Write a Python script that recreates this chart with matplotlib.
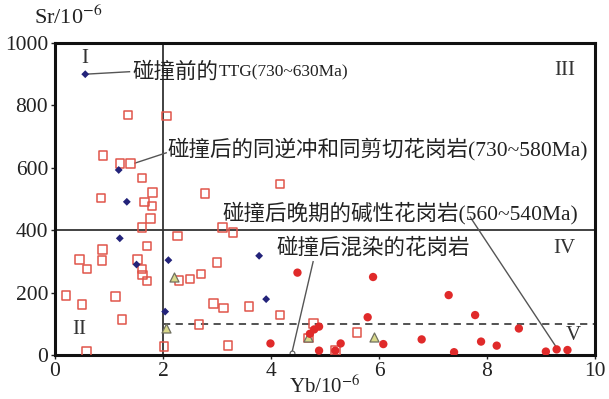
import matplotlib
matplotlib.use("Agg")
import matplotlib.pyplot as plt

plt.rcParams['font.family'] = ['Liberation Serif', 'Noto Sans CJK SC']
plt.rcParams['mathtext.fontset'] = 'stix'

# Pre-collision TTG (blue diamonds)
ttg_yb = [0.56, 1.18, 1.33, 1.20, 1.51, 2.10, 3.78, 3.91, 2.04]
ttg_sr = [900, 593, 491, 374, 290, 304, 318, 179, 139]

# Post-collision syn-thrust / syn-shear granites (open red squares)
syn_yb = [1.35, 2.07, 0.89, 1.20, 1.40, 1.61, 1.81, 0.85, 1.66, 1.80, 1.77, 1.61, 2.27,
          4.17, 2.78, 3.10, 3.30, 1.70, 0.88, 0.45, 0.87, 0.59, 1.53, 1.61, 1.62, 1.70,
          0.20, 1.12, 0.50, 1.24, 0.58, 2.02, 2.30, 2.50, 2.70, 3.00, 2.93, 3.12, 3.59,
          4.17, 2.67, 3.20, 4.79, 5.59, 4.69, 5.19]
syn_sr = [769, 766, 639, 613, 614, 567, 521, 503, 491, 478, 438, 409, 381,
          548, 518, 409, 393, 350, 339, 306, 302, 275, 306, 276, 256, 237,
          190, 188, 161, 113, 12, 27, 239, 244, 259, 296, 165, 151, 156,
          128, 98, 30, 101, 72, 55, 14]

# Post-collision contaminated granites (triangles)
mix_yb = [2.20, 2.06, 4.69, 5.90]
mix_sr = [250, 85, 57, 57]

# Late post-collision alkaline granites (red dots)
alk_yb = [4.49, 5.89, 3.99, 5.79, 4.80, 4.89, 4.72, 4.89, 5.19, 5.29, 6.08, 6.79, 7.29,
          7.39, 7.78, 7.89, 8.18, 8.59, 9.09, 9.29, 9.49]
alk_sr = [264, 250, 37, 121, 82, 91, 68, 14, 14, 37, 35, 50, 192,
          9, 128, 43, 30, 85, 11, 18, 16]

x_ticks = [0, 2, 4, 6, 8, 10]
y_ticks = [0, 200, 400, 600, 800, 1000]

fig = plt.figure(figsize=(6.09, 3.99), dpi=100)
ax = fig.add_axes([55/609, 1-355/399, 540/609, 312/399])
ax.set_xlim(0, 10)
ax.set_ylim(0, 1000)

# field boundaries
ax.plot([2, 2], [0, 1000], color='#333333', lw=1.3, zorder=1)
ax.plot([0, 10], [400, 400], color='#333333', lw=1.3, zorder=1)
ax.plot([2, 10], [100, 100], color='#444444', lw=1.3, ls=(0, (4, 3)), zorder=1)

ax.scatter(syn_yb, syn_sr, marker='s', s=38, facecolors='none', edgecolors='#e0554a',
           linewidths=1.1, zorder=3)
ax.scatter(mix_yb, mix_sr, marker='^', s=42, facecolors='#d9d98a', edgecolors='#707060',
           linewidths=0.9, zorder=4)
ax.scatter(alk_yb, alk_sr, marker='o', s=36, color='#e02a2a', edgecolors='none', zorder=5)
ax.scatter(ttg_yb, ttg_sr, marker='D', s=16, color='#23237a', edgecolors='none', zorder=6)

lc = '#555555'
tc = '#222222'
fs = 15.5
# annotations
ax.plot([0.56, 1.38], [900, 908], color=lc, lw=1, zorder=2)
t1 = ax.text(1.44, 905, '碰撞前的', fontsize=fs, va='center', ha='left', color=tc)
ax.annotate('TTG(730~630Ma)', xy=(1.0, 0.5), xycoords=t1, fontsize=12.5, va='center',
            ha='left', color=tc)

ax.plot([1.48, 2.06], [615, 648], color=lc, lw=1, zorder=2)
ax.text(2.09, 660, '碰撞后的同逆冲和同剪切花岗岩(730~580Ma)', fontsize=fs, va='center', ha='left',
        color=tc)

ax.plot([7.69, 9.28], [442, 26], color=lc, lw=1, zorder=2)
ax.text(3.11, 455, '碰撞后晚期的碱性花岗岩(560~540Ma)', fontsize=fs, va='center', ha='left',
        color=tc)

ax.plot([4.78, 4.38], [299, 2], color=lc, lw=1, zorder=2)
ax.scatter([4.38], [5], marker='o', s=12, facecolors='white', edgecolors='#555555', lw=0.8, zorder=2)
ax.text(4.11, 342, '碰撞后混染的花岗岩', fontsize=fs, va='center', ha='left', color=tc)

# field labels
rfs = 15
ax.text(0.56, 951, 'I', fontsize=rfs, ha='center', va='center', color='#333333')
ax.text(9.44, 913, 'III', fontsize=rfs, ha='center', va='center', color='#333333')
ax.text(0.45, 82, 'II', fontsize=rfs, ha='center', va='center', color='#333333')
ax.text(9.44, 340, 'IV', fontsize=rfs, ha='center', va='center', color='#333333')
ax.text(9.60, 64, 'V', fontsize=rfs, ha='center', va='center', color='#333333')

ax.set_xticks(x_ticks)
ax.set_yticks(y_ticks)
ax.tick_params(labelsize=15.5, length=3, width=1, direction='out', pad=2, colors=tc)
for s in ax.spines.values():
    s.set_linewidth(2.2)
    s.set_color('#111111')

fig.text(68/609, 1-17/399, 'Sr/10$^{-6}$', fontsize=16, ha='center', va='center', color=tc)
fig.text(325/609, 0.003, 'Yb/10$^{-6}$', fontsize=15, ha='center', va='bottom', color=tc)

fig.savefig('out.png', dpi=100)
